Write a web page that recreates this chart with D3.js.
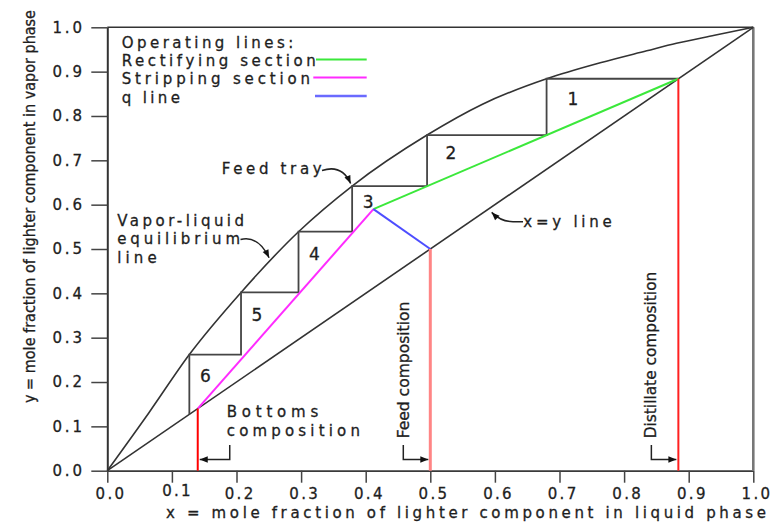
<!DOCTYPE html>
<html>
<head>
<meta charset="utf-8">
<script src="https://cdn.jsdelivr.net/npm/d3@7"></script>
<style>
  html, body { margin: 0; padding: 0; background: #fff; }
  svg { display: block; }
  text { font-family: "DejaVu Sans", sans-serif; fill: #1e1e1e; stroke: #1e1e1e; stroke-width: 0.3px; }
  .cond { font-family: "DejaVu Sans Condensed", "DejaVu Sans", sans-serif; font-stretch: condensed; }
</style>
</head>
<body>
<svg id="chart" width="771" height="524"></svg>
<script>
// McCabe-Thiele construction for a binary distillation column

// Vapor-liquid equilibrium curve (liquid x, vapor y)
const eqX = [0, 0.065, 0.127, 0.207, 0.296, 0.379, 0.495, 0.58, 0.680, 0.763, 0.835, 0.881, 0.94, 1];
const eqY = [0, 0.132, 0.262, 0.402, 0.539, 0.642, 0.757, 0.826, 0.884, 0.92, 0.947, 0.964, 0.982, 1];

// Theoretical stages stepped off between the curve and the operating lines
const stageX = [0.680, 0.495, 0.379, 0.296, 0.207, 0.127];
const stageY = [0.884, 0.757, 0.642, 0.539, 0.402, 0.262];
const stageLabels = ["1", "2", "3", "4", "5", "6"];

// Compositions
const xDistillate = 0.884;
const xFeed = 0.5;
const xBottoms = 0.14;
// Intersection of the two operating lines with the q line
const qPointX = 0.412;
const qPointY = 0.590;

// Axis ticks
const tickValues = [0, 0.1, 0.2, 0.3, 0.4, 0.5, 0.6, 0.7, 0.8, 0.9, 1.0];
const tickLabels = ["0.0", "0.1", "0.2", "0.3", "0.4", "0.5", "0.6", "0.7", "0.8", "0.9", "1.0"];

// Legend entries
const legendTitle = "Operating lines:";
const legendLabels = ["Rectifying section", "Stripping section", "q line"];

const FS = "15px";
const svg = d3.select("#chart");

const x = d3.scaleLinear().domain([0, 1]).range([107.3, 753.3]);
const y = d3.scaleLinear().domain([0, 1]).range([470.7, 27.3]);

const line = d3.line().x(d => x(d[0])).y(d => y(d[1]));

// arrowhead marker
const defs = svg.append("defs");
defs.append("marker")
  .attr("id", "arrow")
  .attr("viewBox", "0 0 10 10")
  .attr("refX", 10).attr("refY", 5)
  .attr("markerUnits", "userSpaceOnUse")
  .attr("markerWidth", 9).attr("markerHeight", 8)
  .attr("orient", "auto")
  .append("path")
  .attr("d", "M0,1 L10,5 L0,9 Z")
  .attr("fill", "#111");

// ---- axes ----
const xAxis = d3.axisBottom(x)
  .tickValues(tickValues)
  .tickFormat((d, i) => tickLabels[i])
  .tickSize(12)
  .tickSizeOuter(0);

const gx = svg.append("g")
  .attr("transform", `translate(0,${y(0)})`)
  .call(xAxis);
gx.attr("font-family", null).attr("font-size", null);
gx.select(".domain").attr("stroke", "#3a3a3a").attr("stroke-width", 1.8);
gx.selectAll(".tick line").attr("stroke", "#444").attr("stroke-width", 1.5);
gx.selectAll(".tick text")
  .attr("dy", null)
  .attr("y", (d, i) => i === 1 ? 25.5 : 28.5)
  .attr("x", (d, i) => i === 1 ? 4 : 2)
  .attr("fill", "#1e1e1e")
  .style("font-size", FS)
  .attr("textLength", 28.5)
  .attr("lengthAdjust", "spacing");

const yAxis = d3.axisLeft(y)
  .tickValues(tickValues)
  .tickFormat((d, i) => tickLabels[i])
  .tickSize(16)
  .tickSizeOuter(0);

const gy = svg.append("g")
  .attr("transform", `translate(${x(0)},0)`)
  .call(yAxis);
gy.attr("font-family", null).attr("font-size", null);
gy.select(".domain").attr("stroke", "#333").attr("stroke-width", 2);
gy.selectAll(".tick line").attr("stroke", "#444").attr("stroke-width", 1.5);
gy.selectAll(".tick text")
  .attr("x", -25.3)
  .attr("dy", "0.33em")
  .attr("fill", "#1e1e1e")
  .style("font-size", FS)
  .attr("textLength", 29.5)
  .attr("lengthAdjust", "spacing");

// frame on top and right
svg.append("path")
  .attr("d", line([[0, 1], [1, 1]]))
  .attr("stroke", "#333").attr("stroke-width", 1.5).attr("fill", "none");
svg.append("path")
  .attr("d", line([[1, 1], [1, 0]]))
  .attr("stroke", "#777").attr("stroke-width", 2.6).attr("fill", "none");

// axis titles
svg.append("text")
  .attr("x", 166).attr("y", 518)
  .style("font-size", FS)
  .attr("textLength", 600).attr("lengthAdjust", "spacing")
  .text("x = mole fraction of lighter component in liquid phase");

svg.append("text")
  .attr("class", "cond")
  .attr("transform", "translate(34.5,403) rotate(-90)")
  .style("font-size", "15.5px")
  .attr("textLength", 393).attr("lengthAdjust", "spacingAndGlyphs")
  .text("y = mole fraction of lighter component in vapor phase");

// ---- x = y diagonal ----
svg.append("path")
  .attr("d", line([[0, 0], [1, 1]]))
  .attr("stroke", "#333").attr("stroke-width", 1.6).attr("fill", "none");

// ---- equilibrium curve ----
const eqPts = eqX.map((v, i) => [v, eqY[i]]);
svg.append("path")
  .attr("d", d3.line().x(d => x(d[0])).y(d => y(d[1])).curve(d3.curveMonotoneX)(eqPts))
  .attr("stroke", "#333").attr("stroke-width", 1.6).attr("fill", "none");

// ---- stage staircase ----
const stairs = [[xDistillate, stageY[0]]];
stageX.forEach((sx, i) => {
  stairs.push([sx, stageY[i]]);
  stairs.push([sx, i < stageX.length - 1 ? stageY[i + 1] : sx]);
});
svg.append("path")
  .attr("d", line(stairs))
  .attr("stroke", "#454545").attr("stroke-width", 1.8).attr("fill", "none");

// stage numbers
stageX.forEach((sx, i) => {
  const prevX = i === 0 ? xDistillate : stageX[i - 1];
  const nextY = i < stageX.length - 1 ? stageY[i + 1] : sx;
  const w = x(prevX) - x(sx);
  const h = y(nextY) - y(stageY[i]);
  svg.append("text")
    .attr("x", x(sx) + Math.max(16, 0.2 * w))
    .attr("y", y(stageY[i]) + 0.45 * h + 1)
    .attr("text-anchor", "middle")
    .style("font-size", "17px")
    .text(stageLabels[i]);
});

// ---- operating lines ----
svg.append("path")
  .attr("d", line([[qPointX, qPointY], [xDistillate, xDistillate]]))
  .attr("stroke", "#3be83b").attr("stroke-width", 2).attr("fill", "none");
svg.append("path")
  .attr("d", line([[xBottoms, xBottoms], [qPointX, qPointY]]))
  .attr("stroke", "#ff2bff").attr("stroke-width", 2).attr("fill", "none");
svg.append("path")
  .attr("d", line([[xFeed, xFeed], [qPointX, qPointY]]))
  .attr("stroke", "#4d4dff").attr("stroke-width", 2).attr("fill", "none");

// ---- composition verticals ----
svg.append("path")
  .attr("d", line([[xFeed, xFeed], [xFeed, 0]]))
  .attr("stroke", "#ff8585").attr("stroke-width", 3).attr("fill", "none");
svg.append("path")
  .attr("d", line([[xDistillate, xDistillate], [xDistillate, 0]]))
  .attr("stroke", "#ff2020").attr("stroke-width", 2).attr("fill", "none");
svg.append("path")
  .attr("d", line([[xBottoms, xBottoms], [xBottoms, 0]]))
  .attr("stroke", "#ff0000").attr("stroke-width", 2).attr("fill", "none");

// ---- legend ----
const legendColors = ["#3be83b", "#ff2bff", "#6a6aff"];
const legendWidths = [194, 188.3, 58.3];
const legendLineY = [59.5, 77.5, 96];
const legendLineX0 = [316, 313.3, 315];
svg.append("text")
  .attr("x", 121.7).attr("y", 48)
  .style("font-size", FS)
  .attr("textLength", 171.6).attr("lengthAdjust", "spacing")
  .text(legendTitle);
legendLabels.forEach((lab, i) => {
  svg.append("text")
    .attr("x", 121.7).attr("y", 66 + i * 18.3)
    .style("font-size", FS)
    .attr("textLength", legendWidths[i]).attr("lengthAdjust", "spacing")
    .text(lab);
  svg.append("line")
    .attr("x1", legendLineX0[i]).attr("x2", 366.7)
    .attr("y1", legendLineY[i]).attr("y2", legendLineY[i])
    .attr("stroke", legendColors[i]).attr("stroke-width", i === 2 ? 2.6 : 2);
});

// ---- annotations ----
function label(txt, px, py, len) {
  svg.append("text")
    .attr("x", px).attr("y", py)
    .style("font-size", FS)
    .attr("textLength", len).attr("lengthAdjust", "spacing")
    .text(txt);
}
function arrow(d) {
  svg.append("path")
    .attr("d", d)
    .attr("fill", "none").attr("stroke", "#222").attr("stroke-width", 1.5)
    .attr("marker-end", "url(#arrow)");
}

// feed tray: points at the stage-3 corner on the equilibrium curve
const ftX = x(stageX[2]) - 1.5, ftY = y(stageY[2]) - 2.5;
label("Feed tray", 221.7, 174, 100);
arrow(`M322,170.5 Q342,164 ${ftX},${ftY}`);

// equilibrium curve label
const eqAt = d3.scaleLinear().domain(eqX).range(eqY);
const vlX = x(0.252) - 1, vlY = y(eqAt(0.252)) - 4;
label("Vapor-liquid", 117.3, 225.5, 126.7);
label("equilibrium", 117.3, 244, 122.7);
label("line", 117.3, 262.5, 39.4);
arrow(`M240.5,239.5 Q258,235 ${vlX},${vlY}`);

// x = y line label
const dgX = x(0.595), dgY = y(0.595) + 5.5;
label("x=y line", 523.3, 226.5, 88.4);
arrow(`M523,221.7 L513,221.7 Q501,221.7 ${dgX},${dgY}`);

// bottoms composition bracket
const bTip = x(xBottoms) + 2;
label("Bottoms", 226.7, 417, 91.6);
label("composition", 226.7, 436, 133.3);
arrow(`M${bTip + 30},445 V459.5 H${bTip}`);

// feed composition bracket
const fTip = x(xFeed) - 2;
arrow(`M${fTip - 25},445 V459.5 H${fTip}`);
svg.append("text")
  .attr("class", "cond")
  .attr("transform", `translate(${fTip - 25 + 6},438.3) rotate(-90)`)
  .style("font-size", "16px")
  .attr("textLength", 136.6).attr("lengthAdjust", "spacingAndGlyphs")
  .text("Feed composition");

// distillate composition bracket
const dTip = x(xDistillate) - 2;
arrow(`M${dTip - 25},445 V459.5 H${dTip}`);
svg.append("text")
  .attr("class", "cond")
  .attr("transform", `translate(${dTip - 25 + 5},438.3) rotate(-90)`)
  .style("font-size", "16px")
  .attr("textLength", 166.6).attr("lengthAdjust", "spacingAndGlyphs")
  .text("Distillate composition");
</script>
</body>
</html>
